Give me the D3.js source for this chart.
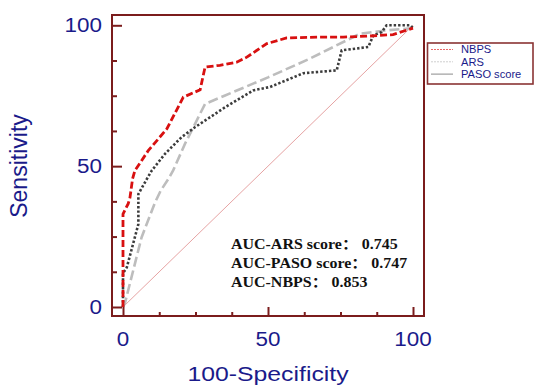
<!DOCTYPE html>
<html>
<head>
<meta charset="utf-8">
<script src="https://cdn.jsdelivr.net/npm/d3@7"></script>
<style>
  body { margin: 0; background: #fff; }
  svg { display: block; }
</style>
</head>
<body>
<figure id="roc_view" style="margin:0"></figure>
<script>
// ROC points, [100-Specificity, Sensitivity]
const nbps = [[0,0],[0,33],[1.8,36.7],[2.4,38.8],[3.3,45.5],[4.1,48.4],[8.7,55.5],[15.1,63.2],[20.8,74.5],[26.6,77.1],[28.3,85.2],[33.4,85.8],[39.2,86.9],[42.7,88.7],[49.6,93.5],[56.4,95.5],[67.9,95.8],[75.9,95.8],[85.2,96.2],[93.1,96.7],[100,99]];
const ars = [[0,0],[0.7,1.5],[6.4,24.7],[11,37],[13,41.3],[15.6,45.4],[17.3,48.5],[21.4,58],[28.3,72.1],[35.2,75.1],[50,81.5],[64.5,88.2],[81.7,97],[90.9,98.2],[100,99]];
const paso = [[0,0],[0,12],[1.3,14],[5.3,29.4],[5.3,40.1],[8.2,45.4],[9.9,48.4],[14.5,54.4],[20.2,60.3],[24.8,63.8],[35.2,70.9],[44.9,76.9],[50.7,78.1],[62.2,83],[73.7,84],[75.4,91.1],[84.6,92.3],[86.3,96.4],[89.2,97.6],[90.9,100],[99,100],[100,99]];
const diagonal = [[0,0],[100,100]];

const majorTicks = [0, 50, 100];
const minorTicks = [12.5, 25, 37.5, 62.5, 75, 87.5];
const legendNames = ["NBPS", "ARS", "PASO score"];
const aucNames = ["AUC-ARS score", "AUC-PASO score", "AUC-NBPS"];
const aucValues = ["0.745", "0.747", "0.853"];

const width = 536, height = 390;
const frameColor = "#7b1c1c";
const textColor = "#1a1a8a";

const svg = d3.select("figure#roc_view")
  .append("svg")
  .attr("width", width)
  .attr("height", height)
  .attr("viewBox", "0 0 " + width + " " + height);

const x = d3.scaleLinear().domain([0, 100]).range([123, 413]);
const y = d3.scaleLinear().domain([0, 100]).range([307, 25.3]);

const frame = { left: 112, right: 424, top: 15, bottom: 316 };

// stretched text helper (the source picture is a bit wide)
function label(g, str, px, py, size, anchor, sx) {
  return g.append("text")
    .attr("transform", "translate(" + px + "," + py + ") scale(" + sx + ",1)")
    .attr("text-anchor", anchor)
    .attr("font-size", size)
    .text(str);
}

// curves
const line = d3.line().x(d => x(d[0])).y(d => y(d[1]));
const curves = svg.append("g").attr("fill", "none");

curves.append("path").datum(diagonal).attr("d", line)
  .attr("stroke", "#e6a3a3").attr("stroke-width", 1);

curves.append("path").datum(ars).attr("d", line)
  .attr("stroke", "#bdbdbd").attr("stroke-width", 2.6)
  .attr("stroke-dasharray", "10,4");

curves.append("path").datum(paso).attr("d", line)
  .attr("stroke", "#3c3c3c").attr("stroke-width", 2.6)
  .attr("stroke-dasharray", "2.4,2");

curves.append("path").datum(nbps).attr("d", line)
  .attr("stroke", "#d81010").attr("stroke-width", 2.8)
  .attr("stroke-dasharray", "7,3");

// frame + inward ticks
svg.append("rect")
  .attr("x", frame.left).attr("y", frame.top)
  .attr("width", frame.right - frame.left).attr("height", frame.bottom - frame.top)
  .attr("fill", "none").attr("stroke", frameColor).attr("stroke-width", 2);

const xMajor = d3.axisBottom(x).tickValues(majorTicks).tickSize(-9).tickFormat("");
const xMinor = d3.axisBottom(x).tickValues(minorTicks).tickSize(-4).tickFormat("");
const yMajor = d3.axisLeft(y).tickValues(majorTicks).tickSize(-10).tickFormat("");
const yMinor = d3.axisLeft(y).tickValues(minorTicks).tickSize(-5).tickFormat("");

[[xMajor, "translate(0," + frame.bottom + ")"], [xMinor, "translate(0," + frame.bottom + ")"],
 [yMajor, "translate(" + frame.left + ",0)"], [yMinor, "translate(" + frame.left + ",0)"]]
  .forEach(([ax, tr]) => {
    const g = svg.append("g").attr("transform", tr).call(ax);
    g.select(".domain").remove();
    g.selectAll("line").attr("stroke", frameColor).attr("stroke-width", 2);
  });

// tick labels
const labels = svg.append("g")
  .attr("font-family", "Liberation Sans, Arial, sans-serif")
  .attr("fill", textColor);

majorTicks.forEach(v => {
  label(labels, v, x(v), 345.5, 19.5, "middle", 1.15);
  label(labels, v, 102, y(v) + 7, 19.5, "end", 1.15);
});

// axis titles
label(labels, "100-Specificity", (frame.left + frame.right) / 2, 381, 21, "middle", 1.18);
labels.append("text")
  .attr("transform", "translate(27,166) rotate(-90)")
  .attr("text-anchor", "middle")
  .attr("font-size", 23)
  .text("Sensitivity");

// legend
const legend = svg.append("g");
legend.append("rect")
  .attr("x", 427.5).attr("y", 43).attr("width", 105.5).attr("height", 41)
  .attr("fill", "#fff").attr("stroke", "#8a3434").attr("stroke-width", 1.6);

const legendStyles = [
  { color: "#e86a6a", dash: "2,1" },
  { color: "#cfcfcf", dash: "2,1" },
  { color: "#8a8a8a", dash: null }
];
legendNames.forEach((name, i) => {
  const cy = 49.5 + i * 12.3;
  legend.append("line")
    .attr("x1", 431).attr("x2", 453).attr("y1", cy).attr("y2", cy)
    .attr("stroke", legendStyles[i].color).attr("stroke-width", 1)
    .attr("stroke-dasharray", legendStyles[i].dash);
  label(legend, name, 461, cy + 3.8, 10.5, "start", 1.06)
    .attr("font-family", "Liberation Sans, Arial, sans-serif")
    .attr("fill", textColor);
});

// AUC notes
const notes = svg.append("g")
  .attr("font-family", "Liberation Serif, Times New Roman, serif")
  .attr("font-weight", "bold")
  .attr("fill", "#111");
aucNames.forEach((t, i) => {
  const txt = label(notes, null, 231, 249 + i * 19, 14, "start", 1.14);
  txt.append("tspan").text(t);
  txt.append("tspan").attr("font-family", "Noto Sans CJK SC").text("\uFF1A");
  txt.append("tspan").text(" " + aucValues[i]);
});
</script>
</body>
</html>
